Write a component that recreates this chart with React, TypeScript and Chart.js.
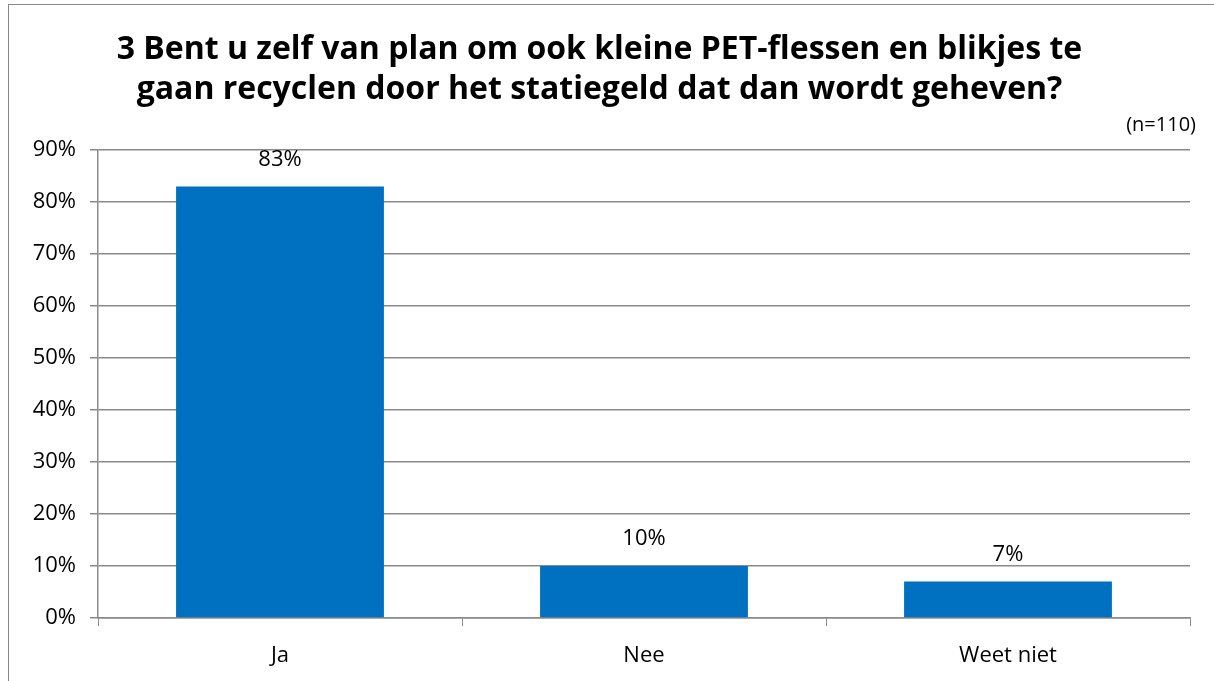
import React, { useEffect, useRef } from 'react';
import { Chart, registerables } from 'chart.js';

Chart.register(...registerables);

const titleLines = [
  '3 Bent u zelf van plan om ook kleine PET-flessen en blikjes te',
  'gaan recyclen door het statiegeld dat dan wordt geheven?',
];
const sampleNote = '(n=110)';
const categories = ['Ja', 'Nee', 'Weet niet'];
const values = [83, 10, 7];
const yMax = 90;
const yStep = 10;

const FONT = '"Open Sans", sans-serif';
const GRID = '#8a8a8a';
const BAR = '#0070C0';

const labelsPlugin = {
  id: 'valueLabels',
  afterDatasetsDraw(chart: any) {
    const ctx = chart.ctx;
    const meta = chart.getDatasetMeta(0);
    ctx.save();
    ctx.font = `22px ${FONT}`;
    ctx.fillStyle = '#000';
    ctx.textAlign = 'center';
    ctx.textBaseline = 'middle';
    meta.data.forEach((bar: any, i: number) => {
      ctx.fillText(values[i] + '%', bar.x, bar.y - 27);
    });
    ctx.restore();
  },
};

const notePlugin = {
  id: 'sampleNote',
  afterDraw(chart: any) {
    const ctx = chart.ctx;
    ctx.save();
    ctx.font = `20px ${FONT}`;
    ctx.fillStyle = '#000';
    ctx.textAlign = 'right';
    ctx.textBaseline = 'middle';
    ctx.fillText(sampleNote, 1187, 120);
    ctx.restore();
  },
};

export default function App() {
  const ref = useRef<HTMLCanvasElement>(null);
  useEffect(() => {
    if (!ref.current) return;
    const chart = new Chart(ref.current, {
      type: 'bar',
      data: {
        labels: categories,
        datasets: [
          {
            data: values,
            backgroundColor: BAR,
            barPercentage: 1,
            categoryPercentage: 0.571,
          },
        ],
      },
      plugins: [labelsPlugin, notePlugin],
      options: {
        animation: false,
        responsive: false,
        layout: { padding: { left: 0, right: 25, top: 0, bottom: 0 } },
        plugins: {
          legend: { display: false },
          tooltip: { enabled: false },
          title: {
            display: true,
            text: titleLines,
            color: '#000',
            font: { family: FONT, size: 32, weight: 'bold', lineHeight: 40 / 32 },
            padding: { top: 25, bottom: 40 },
          },
        },
        scales: {
          x: {
            afterFit(scale: any) {
              scale.height = 64;
            },
            grid: {
              display: true,
              drawOnChartArea: false,
              drawTicks: true,
              tickLength: 8,
              color: GRID,
              offset: true,
            },
            border: { display: true, color: GRID, width: 1.5 },
            ticks: {
              color: '#000',
              font: { family: FONT, size: 22 },
              padding: 17,
            },
          },
          y: {
            min: 0,
            max: yMax,
            afterFit(scale: any) {
              scale.width = 89;
            },
            grid: {
              color: GRID,
              lineWidth: 1.5,
              tickLength: 8,
            },
            border: { display: true, color: GRID, width: 1.5 },
            ticks: {
              stepSize: yStep,
              color: '#000',
              font: { family: FONT, size: 22 },
              padding: 14,
              callback: (v: any) => v + '%',
            },
          },
        },
      },
    });
    return () => chart.destroy();
  }, []);

  return (
    <div style={{ position: 'fixed', inset: 0, overflow: 'hidden', background: '#fff' }}>
      <div
        style={{
          position: 'absolute',
          left: 8,
          top: 4,
          width: 1240,
          height: 700,
          border: '1.5px solid #888',
          boxSizing: 'border-box',
        }}
      >
        <canvas ref={ref} width={1206} height={677} style={{ display: 'block' }} />
      </div>
    </div>
  );
}
